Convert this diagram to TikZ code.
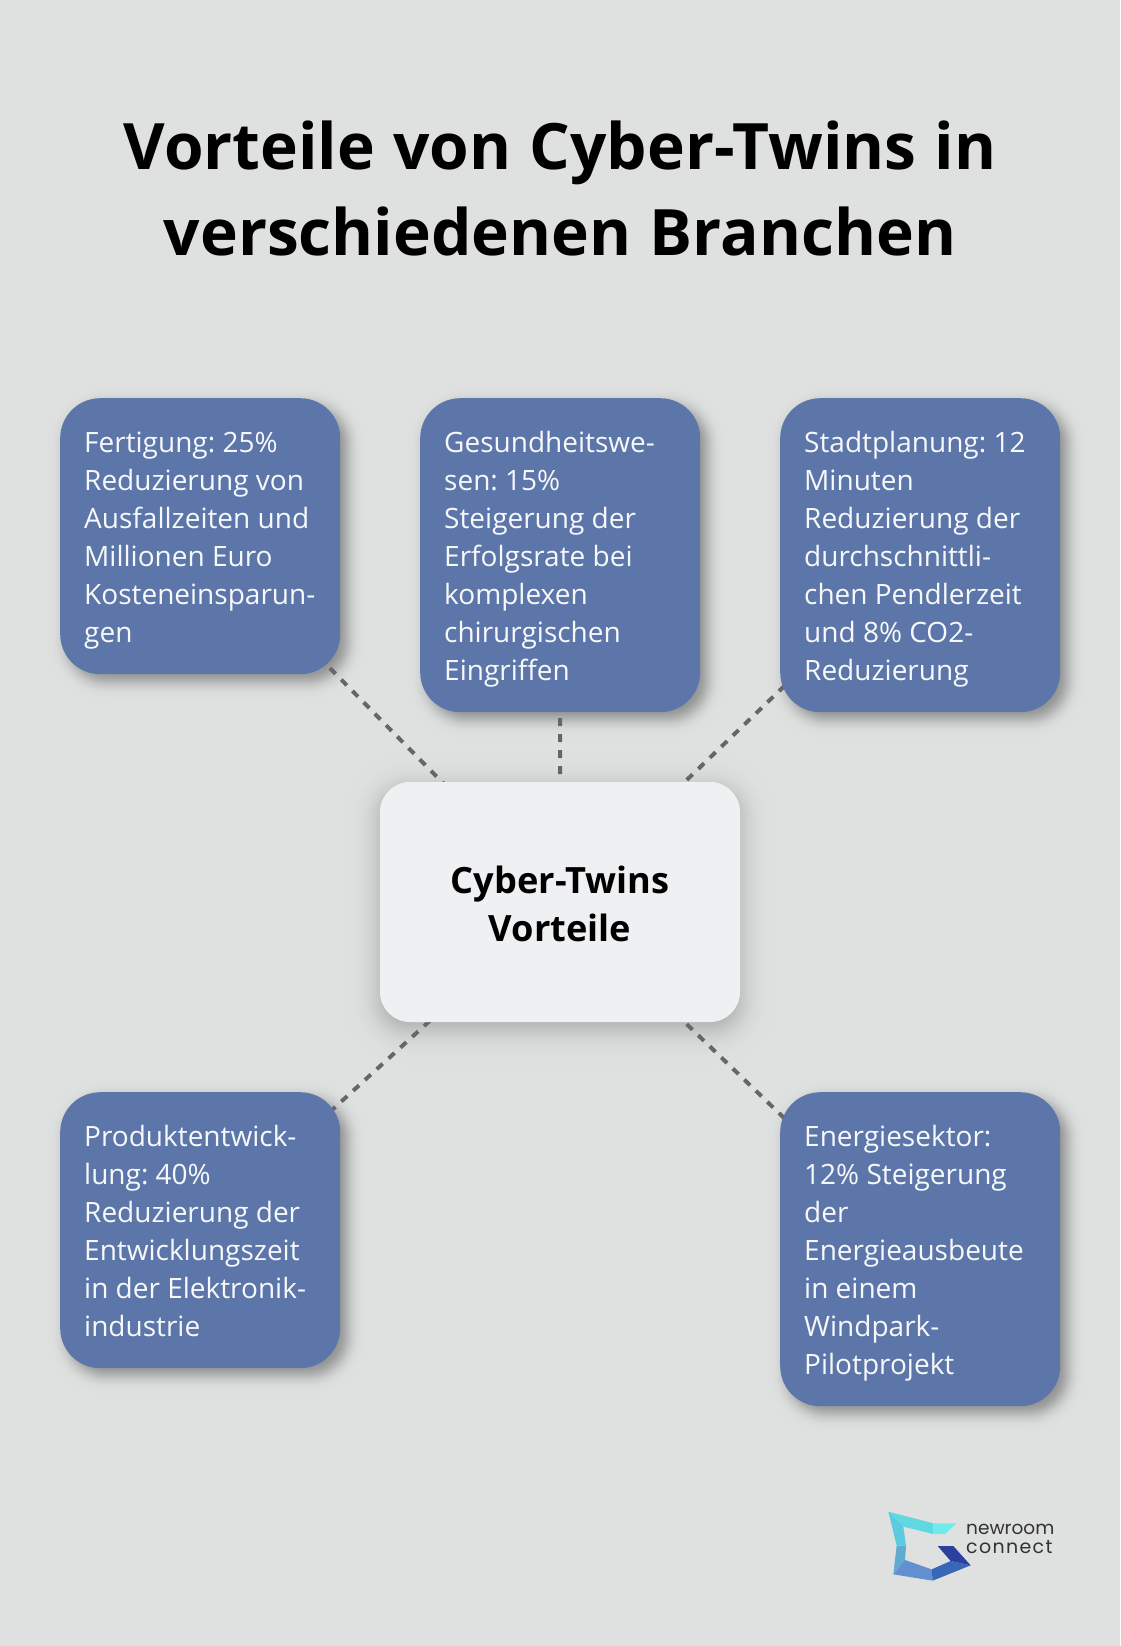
\documentclass[tikz,border=0pt]{standalone}
\usepackage{fontspec}
\setmainfont{Open Sans}
\newfontfamily\logofont{Poppins}
\newfontfamily\titlefont{Open Sans}[WordSpace=1.1]
\usetikzlibrary{calc}
\definecolor{pagebg}{HTML}{DFE1E0}
\definecolor{boxblue}{HTML}{5D76A9}
\definecolor{boxlight}{HTML}{EFF0F2}
\definecolor{dashgrey}{HTML}{666666}
\definecolor{boxtext}{HTML}{F7F8FA}
\definecolor{logoA}{HTML}{5FD8E0}
\definecolor{logoB}{HTML}{6FEBEB}
\definecolor{logoC}{HTML}{5CCBDF}
\definecolor{logoD}{HTML}{62ABD0}
\definecolor{logoE}{HTML}{628FD0}
\definecolor{logoF}{HTML}{3866B8}
\definecolor{logoG}{HTML}{2C409E}
\pgfdeclarelayer{shadowlayer}
\pgfdeclarelayer{linelayer}
\pgfsetlayers{shadowlayer,linelayer,main}
\newcommand\firstl{\spaceskip=0pt\relax\xspaceskip=0pt\relax\rule{0pt}{30pt}}
\newcommand\lastl{\rule[-8pt]{0pt}{8pt}}
\newcommand\nohyph{\hyphenpenalty=10000\relax\frenchspacing}
% node, dx, dy, logistic scale, radius, total darkness in percent
\newcommand\softshadow[6]{%
  \begin{pgfonlayer}{shadowlayer}
  \foreach \k in {0,...,39}{
    \pgfmathsetmacro\tval{1-(2*\k+1)/40}
    \pgfmathsetmacro\e{#4*0.5*ln((1+\tval)/(1-\tval))}
    \pgfmathsetmacro\rr{max(#5+\e,1)}
    \pgfmathsetmacro\dk{#6*(\k+0.5)/40}
    \fill[black!\dk!pagebg,rounded corners=\rr pt]
      ($(#1.north west)+(#2-\e,#3-\e)$) rectangle ($(#1.south east)+(#2+\e,#3+\e)$);
  }
  \end{pgfonlayer}}
\tikzset{
  x=1pt,y=-1pt,
  bluebox/.style={rectangle,rounded corners=40pt,fill=boxblue,text=boxtext,minimum width=280pt,
    text width=232pt,inner xsep=24pt,inner ysep=24pt,align=left,anchor=north west,
    font={\fontsize{28pt}{38pt}\selectfont\nohyph}},
  centerbox/.style={rectangle,rounded corners=30pt,fill=boxlight,text=black,minimum width=360pt,
    minimum height=240pt,align=center,font=\fontsize{36.2pt}{48pt}\selectfont\bfseries},
  titletext/.style={text=black,align=center,inner sep=0pt,font=\titlefont\fontsize{64pt}{86pt}\selectfont\bfseries},
  logotext/.style={text=black!80,inner sep=0pt,anchor=base west},
  conn/.style={draw=dashgrey,line width=4pt,dash pattern=on 8pt off 8pt},
}
\begin{document}
\begin{tikzpicture}
\begin{pgfonlayer}{shadowlayer}
\fill[pagebg] (0,0) rectangle (1120,1646);
\end{pgfonlayer}
\useasboundingbox (0,0) rectangle (1120,1646);

\node[titletext] (title) at (560,188.5) {Vorteile von Cyber-Twins in\\verschiedenen Branchen};

\node[centerbox] (hub) at (560,902) {\rule{0pt}{31pt}Cyber-Twins\\Vorteile};

\node[bluebox] (fert) at (60,398) {\firstl Fertigung: 25\%\\Reduzierung von\\Ausfallzeiten und\\Millionen Euro\\Kosteneinsparun-\\gen\lastl};
\node[bluebox] (ges) at (420,398) {\firstl Gesundheitswe-\\sen: 15\%\\Steigerung der\\Erfolgsrate bei\\komplexen\\chirurgischen\\Eingriffen\lastl};
\node[bluebox] (stadt) at (780,398) {\firstl Stadtplanung: 12\\Minuten\\Reduzierung der\\durchschnittli-\\chen Pendlerzeit\\und 8\% CO2-\\Reduzierung\lastl};
\node[bluebox] (prod) at (60,1092) {\firstl Produktentwick-\\lung: 40\%\\Reduzierung der\\Entwicklungszeit\\in der Elektronik-\\industrie\lastl};
\node[bluebox] (energ) at (780,1092) {\firstl Energiesektor:\\12\% Steigerung\\der\\Energieausbeute\\in einem\\Windpark-\\Pilotprojekt\lastl};

\softshadow{hub}{0}{7}{17}{30}{26}
\foreach \n in {fert,ges,stadt,prod,energ}{
  \softshadow{\n}{7}{7}{9}{40}{38}
}
\begin{pgfonlayer}{linelayer}
\foreach \n in {fert,ges,stadt,prod,energ}{
  \draw[conn] (hub.center) -- (\n.center);
}
\end{pgfonlayer}

% logo
\begin{scope}[shift={(860,1490)},x=0.3333pt,y=-0.3333pt]
\fill[logoA] (85,65) -- (220,100) -- (220,132) -- (130,110) -- cycle;
\fill[logoB] (220,100) -- (290,100) -- (255,132) -- (220,132) -- cycle;
\fill[logoC] (85,65) -- (130,110) -- (138,167) -- (110,167) -- cycle;
\fill[logoD] (110,167) -- (138,167) -- (135,210) -- (100,253) -- cycle;
\fill[logoE] (100,253) -- (135,210) -- (215,238) -- (218,272) -- cycle;
\fill[logoF] (215,238) -- (272,213) -- (332,226) -- (218,272) -- cycle;
\fill[logoG] (233,168) -- (280,168) -- (332,226) -- (272,213) -- cycle;
\end{scope}
\node[logotext,font=\logofont\fontsize{18.5pt}{20pt}\selectfont] (logoa) at (966,1534) {newroom};
\node[logotext,font=\logofont\fontsize{19pt}{20pt}\selectfont\addfontfeature{LetterSpace=7}] (logob) at (966,1553) {connect};
\end{tikzpicture}
\end{document}
